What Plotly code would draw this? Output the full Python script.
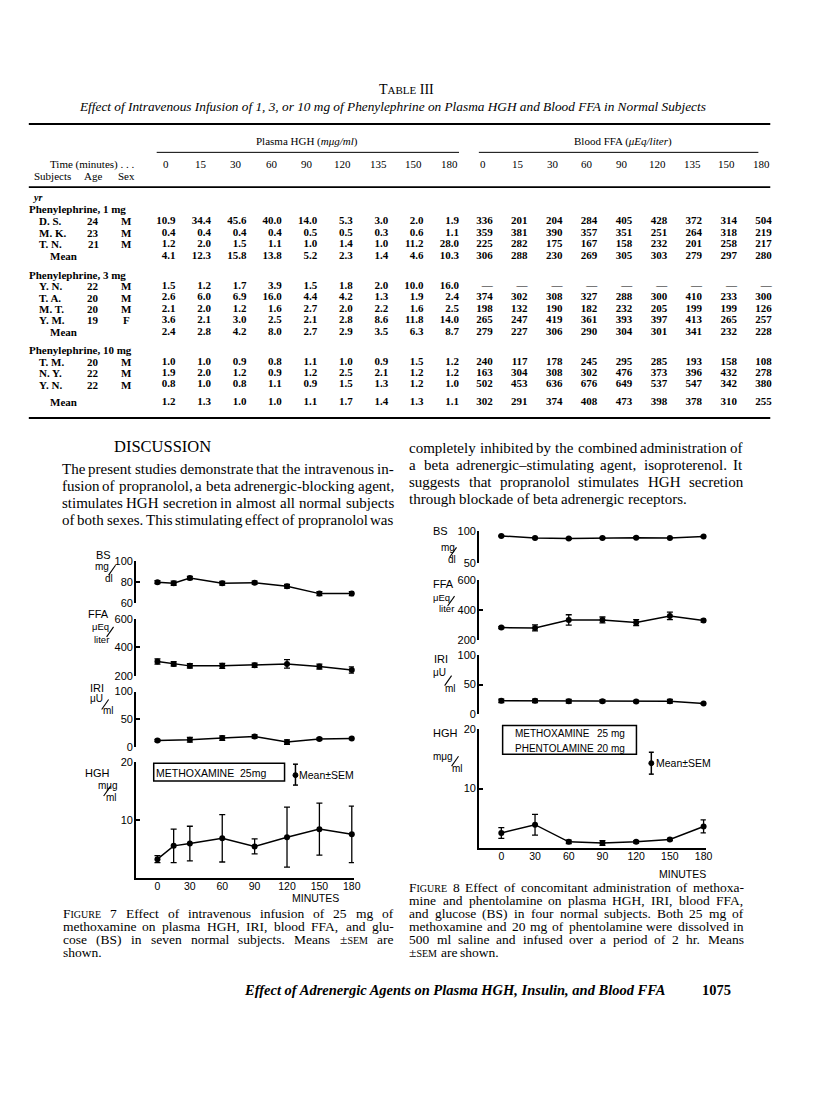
import re
import plotly.graph_objects as go

W, H = 816, 1100          # page size in the screenshot
OFF = 8                   # default body margin of the html page
FW, FH = W - 2 * OFF, H - 2 * OFF
VSTRETCH = 0.006          # small vertical correction around the page middle
SERIF = "Liberation Serif"
SANS = "Liberation Sans"

# ---------------- table data ----------------
TIMES = [0, 15, 30, 60, 90, 120, 135, 150, 180]
GROUPS = ["Phenylephrine, 1 mg", "Phenylephrine, 3 mg", "Phenylephrine, 10 mg"]

SUBJ_1 = ["D. S.", "M. K.", "T. N."]
AGE_1 = [24, 23, 21]
SEX_1 = ["M", "M", "M"]
HGH_1 = [[10.9, 34.4, 45.6, 40.0, 14.0, 5.3, 3.0, 2.0, 1.9],
         [0.4, 0.4, 0.4, 0.4, 0.5, 0.5, 0.3, 0.6, 1.1],
         [1.2, 2.0, 1.5, 1.1, 1.0, 1.4, 1.0, 11.2, 28.0]]
HGH_1_MEAN = [4.1, 12.3, 15.8, 13.8, 5.2, 2.3, 1.4, 4.6, 10.3]
FFA_1 = [[336, 201, 204, 284, 405, 428, 372, 314, 504],
         [359, 381, 390, 357, 351, 251, 264, 318, 219],
         [225, 282, 175, 167, 158, 232, 201, 258, 217]]
FFA_1_MEAN = [306, 288, 230, 269, 305, 303, 279, 297, 280]

SUBJ_3 = ["Y. N.", "T. A.", "M. T.", "Y. M."]
AGE_3 = [22, 20, 20, 19]
SEX_3 = ["M", "M", "M", "F"]
HGH_3 = [[1.5, 1.2, 1.7, 3.9, 1.5, 1.8, 2.0, 10.0, 16.0],
         [2.6, 6.0, 6.9, 16.0, 4.4, 4.2, 1.3, 1.9, 2.4],
         [2.1, 2.0, 1.2, 1.6, 2.7, 2.0, 2.2, 1.6, 2.5],
         [3.6, 2.1, 3.0, 2.5, 2.1, 2.8, 8.6, 11.8, 14.0]]
HGH_3_MEAN = [2.4, 2.8, 4.2, 8.0, 2.7, 2.9, 3.5, 6.3, 8.7]
FFA_3 = [[None] * 9,
         [374, 302, 308, 327, 288, 300, 410, 233, 300],
         [198, 132, 190, 182, 232, 205, 199, 199, 126],
         [265, 247, 419, 361, 393, 397, 413, 265, 257]]
FFA_3_MEAN = [279, 227, 306, 290, 304, 301, 341, 232, 228]

SUBJ_10 = ["T. M.", "N. Y.", "Y. N."]
AGE_10 = [20, 22, 22]
SEX_10 = ["M", "M", "M"]
HGH_10 = [[1.0, 1.0, 0.9, 0.8, 1.1, 1.0, 0.9, 1.5, 1.2],
          [1.9, 2.0, 1.2, 0.9, 1.2, 2.5, 2.1, 1.2, 1.2],
          [0.8, 1.0, 0.8, 1.1, 0.9, 1.5, 1.3, 1.2, 1.0]]
HGH_10_MEAN = [1.2, 1.3, 1.0, 1.0, 1.1, 1.7, 1.4, 1.3, 1.1]
FFA_10 = [[240, 117, 178, 245, 295, 285, 193, 158, 108],
          [163, 304, 308, 302, 476, 373, 396, 432, 278],
          [502, 453, 636, 676, 649, 537, 547, 342, 380]]
FFA_10_MEAN = [302, 291, 374, 408, 473, 398, 378, 310, 255]

# ---------------- figure data ----------------
F7_T = [0, 15, 30, 60, 90, 120, 150, 180]
F7_T_IRI = [0, 30, 60, 90, 120, 150, 180]
F7_BS = [80, 79, 84, 79, 79.5, 76, 69, 69]
F7_BS_ERR = [1.5, 2, 1.5, 1.8, 1.5, 1.8, 2, 2]
F7_FFA = [300, 283, 269, 269, 274, 283, 264, 240]
F7_FFA_ERR = [19, 15, 15, 17, 15, 30, 17, 22]
F7_IRI = [12, 13.5, 16.5, 19.4, 9.4, 14.7, 15.9]
F7_IRI_ERR = [2, 4.4, 4, 3, 4, 2, 2]
F7_HGH = [3.2, 5.5, 5.9, 6.8, 5.4, 7.0, 8.4, 7.5]
F7_HGH_ERR = [0.6, 2.9, 3.0, 4.1, 1.3, 5.2, 4.5, 4.9]

F8_T = [0, 30, 60, 90, 120, 150, 180]
F8_BS = [92.8, 89.7, 88.7, 89.7, 90.2, 89.7, 91.8]
F8_BS_ERR = [1, 1, 1.2, 1, 1.2, 1, 1.2]
F8_FFA = [282, 280, 333, 333, 316, 360, 329]
F8_FFA_ERR = [6, 20, 35, 20, 20, 25, 10]
F8_IRI = [22.8, 22.8, 22.2, 22.2, 21.7, 22.2, 18.3]
F8_IRI_ERR = [3, 3, 3, 2.5, 2, 3, 1.5]
F8_HGH = [2.5, 3.9, 1.0, 0.8, 1.0, 1.4, 3.6]
F8_HGH_ERR = [0.9, 1.75, 0.3, 0.4, 0.2, 0.2, 1.1]

# ---------------- text ----------------
LEFT_LINES = [
    "The present studies demonstrate that the intravenous in-",
    "fusion of propranolol, a beta adrenergic-blocking agent,",
    "stimulates HGH secretion in almost all normal subjects",
    "of both sexes. This stimulating effect of propranolol was",
]
RIGHT_LINES = [
    "completely inhibited by the combined administration of",
    "a beta adrenergic–stimulating agent, isoproterenol. It",
    "suggests that propranolol stimulates HGH secretion",
    "through blockade of beta adrenergic receptors.",
]
CAP7 = [
    "F{IGURE} 7 Effect of intravenous infusion of 25 mg of",
    "methoxamine on plasma HGH, IRI, blood FFA, and glu-",
    "cose (BS) in seven normal subjects. Means ±{SEM} are",
    "shown.",
]
CAP8 = [
    "F{IGURE} 8 Effect of concomitant administration of methoxa-",
    "mine and phentolamine on plasma HGH, IRI, blood FFA,",
    "and glucose (BS) in four normal subjects. Both 25 mg of",
    "methoxamine and 20 mg of phentolamine were dissolved in",
    "500 ml saline and infused over a period of 2 hr. Means",
    "±{SEM} are shown.",
]

# ---------------- layout constants ----------------
COL_CENTER = [167 + 35.75 * k for k in range(9)] + [487 + 35.19 * k for k in range(9)]
ROWS_Y = {
    "g1": 207, "r1": [219.5, 231, 242.5], "m1": 254.5,
    "g3": 273, "r3": [284.5, 296, 307.5, 319], "m3": 331,
    "g10": 349, "r10": [360.5, 372, 383.5], "m10": 401,
}

# Times / Liberation Serif advance widths (per 1000 em)
TW = dict(zip("abcdefghijklmnopqrstuvwxyz",
              [444, 500, 444, 500, 444, 333, 500, 500, 278, 278, 500, 278, 778,
               500, 500, 500, 500, 333, 389, 278, 500, 500, 722, 500, 500, 444]))
TW.update(zip("ABCDEFGHIJKLMNOPQRSTUVWXYZ",
              [722, 667, 667, 722, 611, 556, 722, 722, 333, 389, 722, 611, 889,
               722, 722, 556, 722, 667, 556, 611, 722, 722, 944, 722, 722, 611]))
TW.update({c: 500 for c in "0123456789"})
TW.update({" ": 250, ".": 250, ",": 250, "-": 333, "–": 500, "(": 333, ")": 333, "±": 564})

ann = []
shapes = []


def px(x):
    return (x - OFF) / FW


def vy(y):
    return y + (y - 500) * VSTRETCH


def py(y):
    return 1 - (vy(y) - OFF) / FH


def T(text, x, y, size=11, fam=SERIF, xa="left", ya="middle"):
    ann.append(dict(text=text, x=px(x), y=py(y), xref="paper", yref="paper",
                    xanchor=xa, yanchor=ya, showarrow=False,
                    font=dict(family=fam, size=size, color="black")))


def L(x0, y0, x1, y1, w=1.0, color="black"):
    shapes.append(dict(type="line", xref="paper", yref="paper",
                       x0=px(x0), y0=py(y0), x1=px(x1), y1=py(y1),
                       line=dict(color=color, width=w)))


def slash(xc, yc, h=10):
    L(xc - 0.35 * h, yc + h / 2, xc + 0.35 * h, yc - h / 2, 1.1)


def tw(s, size):
    return sum(TW.get(c, 500) for c in s) * size / 1000


def tok_width(tok, size, sc):
    w = 0
    for p in re.split(r"(\{[^}]*\})", tok):
        w += tw(p[1:-1], sc) if p.startswith("{") else tw(p, size)
    return w


def tok_html(tok, sc):
    return re.sub(r"\{([^}]*)\}", lambda m: f"<span style='font-size:{sc}px'>{m.group(1)}</span>", tok)


def para(lines, x0, x1, y0, dy, size, sc, last_plain=True):
    for i, line in enumerate(lines):
        toks = line.split()
        ws = [tok_width(t, size, sc) for t in toks]
        just = not (last_plain and i == len(lines) - 1)
        gap = (x1 - x0 - sum(ws)) / (len(toks) - 1) if (just and len(toks) > 1) else 0.25 * size
        x = x0
        for t, w in zip(toks, ws):
            T(tok_html(t, sc), x, y0 + dy * i, size=size)
            x += w + gap


fig = go.Figure()

# ---------------- table ----------------
T("T<span style='font-size:11px'>ABLE</span> III", 410, 87, size=14, xa="center")
T("<i>Effect of Intravenous Infusion of 1, 3, or 10 mg of Phenylephrine on Plasma HGH and Blood FFA in Normal Subjects</i>",
  396, 104, size=13.3, xa="center")
L(29, 121.5, 777, 121.5, 2.2)
T("Plasma HGH (<i>mμg/ml</i>)", 310, 139, size=11, xa="center")
T("Blood FFA (<i>μEq/liter</i>)", 628, 139, size=11, xa="center")
L(158, 150, 463, 150, 1.0)
L(483, 150, 765, 150, 1.0)
T("Time (minutes) . . .", 48, 162, size=11)
for k, t in enumerate(TIMES + TIMES):
    T(str(t), COL_CENTER[k], 162, size=11, xa="center")
T("Subjects", 32, 174, size=11)
T("Age", 94, 174, size=11, xa="center")
T("Sex", 128, 174, size=11, xa="center")
L(29, 185, 777, 185, 1.6)
T("<i><b>yr</b></i>", 31, 195, size=10)
L(29, 417, 777, 417, 2.2)

xs, ys, txt = [], [], []


def add_row(y, hgh, ffa):
    for k, v in enumerate(hgh):
        xs.append(COL_CENTER[k] + 10); ys.append(vy(y)); txt.append(f"<b>{v:.1f}</b>")
    for k, v in enumerate(ffa):
        xs.append(COL_CENTER[9 + k] + 10); ys.append(vy(y))
        txt.append("<b>—</b>" if v is None else f"<b>{v}</b>")


blocks = [
    (GROUPS[0], "g1", "r1", "m1", SUBJ_1, AGE_1, SEX_1, HGH_1, FFA_1, HGH_1_MEAN, FFA_1_MEAN),
    (GROUPS[1], "g3", "r3", "m3", SUBJ_3, AGE_3, SEX_3, HGH_3, FFA_3, HGH_3_MEAN, FFA_3_MEAN),
    (GROUPS[2], "g10", "r10", "m10", SUBJ_10, AGE_10, SEX_10, HGH_10, FFA_10, HGH_10_MEAN, FFA_10_MEAN),
]
for g, gk, rk, mk, subj, age, sex, hgh, ffa, hm, fm in blocks:
    T(f"<b>{g}</b>", 27, ROWS_Y[gk], size=11)
    for i, s in enumerate(subj):
        y = ROWS_Y[rk][i]
        T(f"<b>{s}</b>", 37, y, size=11)
        T(f"<b>{age[i]}</b>", 94, y, size=11, xa="center")
        T(f"<b>{sex[i]}</b>", 128, y, size=11, xa="center")
        add_row(y, hgh[i], ffa[i])
    T("<b>Mean</b>", 48, ROWS_Y[mk], size=11)
    add_row(ROWS_Y[mk], hm, fm)

fig.add_trace(go.Scatter(x=xs, y=ys, text=txt, mode="text", textposition="middle left",
                         textfont=dict(family=SERIF, size=11, color="black"),
                         xaxis="x9", yaxis="y9", showlegend=False, hoverinfo="skip"))

# ---------------- discussion text ----------------
T("DISCUSSION", 164, 446, size=16.5, xa="center")
para(LEFT_LINES, 60, 395, 468, 17.2, 15, 12, last_plain=False)
para(RIGHT_LINES, 411, 747, 447, 17.2, 15, 12, last_plain=True)

# ---------------- figures ----------------
AX = dict(showgrid=False, zeroline=False, color="black", linecolor="black",
          tickfont=dict(family=SANS, size=11, color="black"))


def panel(n, t, v, e, xdom, ydom, yrange, yticks, bottom):
    xa = f"x{n}" if n > 1 else "x"
    ya = f"y{n}" if n > 1 else "y"
    fig.add_trace(go.Scatter(
        x=t, y=v, mode="lines+markers", xaxis=xa, yaxis=ya, showlegend=False,
        cliponaxis=False,
        line=dict(color="black", width=1.5),
        marker=dict(color="black", size=6),
        error_y=dict(type="data", array=e, visible=True, color="black", thickness=1.3, width=3)))
    xk = "xaxis" if n == 1 else f"xaxis{n}"
    yk = "yaxis" if n == 1 else f"yaxis{n}"
    fig.layout[xk] = dict(AX, domain=[px(xdom[0]), px(xdom[1])], range=[-20, 182],
                          anchor=ya, visible=bottom, showline=True, linewidth=1.5,
                          tickvals=[0, 30, 60, 90, 120, 150, 180], ticks="",
                          tickfont=dict(family=SANS, size=10.5, color="black"),
                          ticklabelstandoff=-2)
    fig.layout[yk] = dict(AX, domain=[py(ydom[1]), py(ydom[0])], range=yrange,
                          anchor=xa, showline=True, linewidth=1.5, tickvals=yticks,
                          ticks="inside", ticklen=4, tickwidth=1.5, tickcolor="black",
                          ticklabelstandoff=-1)


X7 = (137, 357)
panel(1, F7_T, F7_BS, F7_BS_ERR, X7, (561, 603), [60, 100], [60, 80, 100], False)
panel(2, F7_T, F7_FFA, F7_FFA_ERR, X7, (619, 676), [200, 600], [200, 400, 600], False)
panel(3, F7_T_IRI, F7_IRI, F7_IRI_ERR, X7, (692, 748), [0, 100], [0, 50, 100], False)
panel(4, F7_T, F7_HGH, F7_HGH_ERR, X7, (763, 879), [0, 20], [10, 20], True)

X8 = (483, 712)
panel(5, F8_T, F8_BS, F8_BS_ERR, X8, (531, 563), [50, 100], [50, 100], False)
panel(6, F8_T, F8_FFA, F8_FFA_ERR, X8, (580, 640), [200, 600], [200, 400, 600], False)
panel(7, F8_T, F8_IRI, F8_IRI_ERR, X8, (655, 715), [0, 100], [0, 50, 100], False)
panel(8, F8_T, F8_HGH, F8_HGH_ERR, X8, (730, 849), [0, 20], [10, 20], True)

fig.layout["xaxis9"] = dict(domain=[0, 1], range=[OFF, W - OFF], visible=False, anchor="y9")
fig.layout["yaxis9"] = dict(domain=[0, 1], range=[H - OFF, OFF], visible=False, anchor="x9")


def S(text, x, y, size=10, xa="left"):
    T(text, x, y, size=size, fam=SANS, xa=xa)


# axis labels, figure 7
S("BS", 95, 555, 11)
S("mg", 94, 566); slash(113, 570); S("dl", 104, 578)
S("FFA", 87, 614, 11)
S("μEq", 91, 627, 9.5); slash(111, 632); S("liter", 93, 640, 9.5)
S("IRI", 89, 688, 11)
S("μU", 89, 699); slash(106, 705); S("ml", 102, 711)
S("HGH", 84, 774, 11)
S("mμg", 97, 786); slash(108, 792); S("ml", 105, 798)
S("MINUTES", 318, 900, 10.5, "center")

shapes.append(dict(type="rect", xref="paper", yref="paper",
                   x0=px(155), x1=px(287), y0=py(764), y1=py(782),
                   line=dict(color="black", width=1.5)))
S("METHOXAMINE  25mg", 155, 774, 10.5)
L(298, 765, 298, 786, 1.5)
L(295.5, 765, 300.5, 765, 1.5)
L(295.5, 786, 300.5, 786, 1.5)
shapes.append(dict(type="circle", xref="paper", yref="paper",
                   x0=px(295.5), x1=px(300.5), y0=py(778.5), y1=py(773.5),
                   fillcolor="black", line=dict(color="black", width=1)))
S("Mean±SEM", 300, 776, 10.5)

# axis labels, figure 8
S("BS", 435, 531, 11)
S("mg", 443, 547); slash(457, 552); S("dl", 450, 559)
S("FFA", 435, 584, 11)
S("μEq", 435, 597, 9.5); slash(455, 601); S("liter", 441, 609, 9.5)
S("IRI", 436, 659, 11)
S("μU", 435, 673); slash(452, 681); S("ml", 447, 689)
S("HGH", 435, 734, 11)
S("mμg", 435, 757); slash(459, 762); S("ml", 454, 769)
S("MINUTES", 688, 875, 10.5, "center")

shapes.append(dict(type="rect", xref="paper", yref="paper",
                   x0=px(507), x1=px(642), y0=py(726), y1=py(755),
                   line=dict(color="black", width=1.5)))
S("METHOXAMINE", 517, 734, 10)
S("25 mg", 600, 734, 10)
S("PHENTOLAMINE", 517, 749, 10)
S("20 mg", 600, 749, 10)
L(657, 753, 657, 775, 1.5)
L(654.5, 753, 659.5, 753, 1.5)
L(654.5, 775, 659.5, 775, 1.5)
shapes.append(dict(type="circle", xref="paper", yref="paper",
                   x0=px(654.5), x1=px(659.5), y0=py(766.5), y1=py(761.5),
                   fillcolor="black", line=dict(color="black", width=1)))
S("Mean±SEM", 660, 764, 10.5)

# ---------------- captions ----------------
para(CAP7, 61, 395, 915, 13, 13.5, 10, last_plain=True)
para(CAP8, 411, 748, 889, 13, 13.5, 10, last_plain=True)

T("<b><i>Effect of Adrenergic Agents on Plasma HGH, Insulin, and Blood FFA</i></b>", 244, 992, size=14.5)
T("<b>1075</b>", 706, 992, size=14.5)

fig.update_layout(width=FW, height=FH, margin=dict(l=0, r=0, t=0, b=0),
                  paper_bgcolor="white", plot_bgcolor="rgba(0,0,0,0)",
                  annotations=ann, shapes=shapes, showlegend=False)
fig.write_html("out.html")
